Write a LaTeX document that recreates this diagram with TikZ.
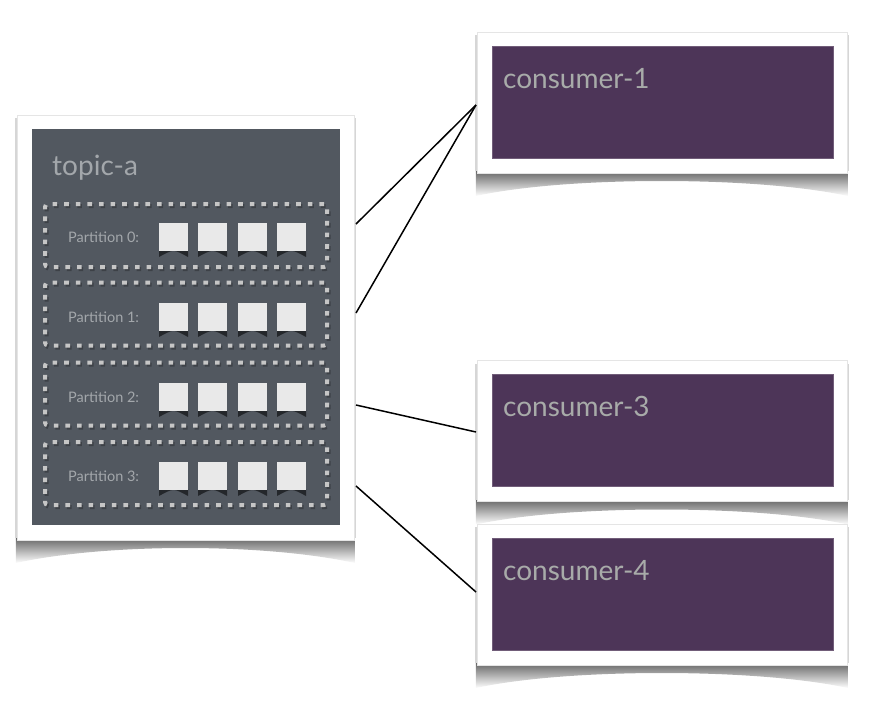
\documentclass[tikz,border=0pt]{standalone}
\usepackage{fontspec}
\setmainfont{Lato}
\usetikzlibrary{fadings}
\definecolor{panelgray}{HTML}{525860}
\definecolor{plum}{HTML}{4D3558}
\definecolor{softtext}{HTML}{A3A7AB}
\definecolor{consumertext}{HTML}{A8ABA9}
\definecolor{dashgray}{HTML}{C6C6C6}
\definecolor{cellfill}{HTML}{E9E9E9}
% #1 left x, #2 right x, #3 bottom y, #4 top y
\newcommand\curlshadow[4]{%
  \fill[black!60, path fading=south] (#1-1,#3-2) -- (#1-1,#3+23) .. controls (#1+90,#3+3) and (#2-90,#3+3) .. (#2+1,#3+23) -- (#2+1,#3-2) -- cycle;
  \fill[black!16] (#1-2,#3-2) rectangle (#1,#4+3);
  \fill[black!16] (#2,#3-2) rectangle (#2+2,#4+3);}
\newcommand\cellshadow[3]{%
  \fill[black, opacity=0.55] (#1,#3-1) -- (#1,#3+6) .. controls ({(#1+#2)/2},#3-2) .. (#2,#3+6) -- (#2,#3-1) -- cycle;}
\tikzset{
  cardframe/.style={draw=black!10, line width=0.6, fill=white, inner sep=0, outer sep=0},
  topicpanel/.style={fill=panelgray, inner sep=0, outer sep=0, minimum width=308, minimum height=396},
  consumerpanel/.style={fill=plum, draw=plum!80!white, line width=0.5, inner sep=0, outer sep=0, minimum width=341, minimum height=112},
  partbox/.style={draw=dashgray, line width=4, dash pattern=on 4.6 off 7, rounded corners=3, inner sep=0, minimum width=282, minimum height=63},
  partshadow/.style={draw=black, opacity=0.25, line width=4, dash pattern=on 4.6 off 7, rounded corners=3, inner sep=0, minimum width=282, minimum height=63},
  cell/.style={fill=cellfill, inner sep=0, minimum width=29, minimum height=28},
  bigtext/.style={font=\fontsize{28}{30}\selectfont, inner sep=0, anchor=base west},
  parttext/.style={text=softtext, font=\fontsize{14.5}{16}\selectfont, inner sep=0, anchor=base west},
  link/.style={draw=black, line width=1.5},
}
\begin{document}
\begin{tikzpicture}[x=1pt, y=-1pt]
\useasboundingbox (0,0) rectangle (877,705);

% ---------- topic card ----------
\curlshadow{17}{354}{540}{115}
\node[cardframe, minimum width=337, minimum height=425] (topic) at (185.5,327.5) {};
\node[topicpanel] (topicp) at (186,327) {};
\node[bigtext, text=softtext] (topiclabel) at (52,175) {topic-a};

\foreach \i/\yb/\yc in {0/235.5/237, 1/314/317, 2/394/397, 3/473.5/476} {
  \node[partshadow] at (187.5,\yb+2) {};
  \node[partbox] (p\i) at (186,\yb) {};
  \node[parttext] (pl\i) at (68,\yc+5.5) {Partition \i:};
  \foreach \j/\xc in {1/173.5, 2/212.5, 3/252.5, 4/291.5} {
    \cellshadow{\xc-14.5}{\xc+14.5}{\yc+14}
    \node[cell] (s\i\j) at (\xc,\yc) {};
  }
}

% ---------- consumer cards ----------
\foreach \n/\fy/\py in {1/102.5/102, 3/431/430, 4/594.5/594} {
  \curlshadow{477}{847}{\fy+70.5}{\fy-70.5}
  \node[cardframe, minimum width=370, minimum height=141] (c\n) at (662,\fy) {};
  \node[consumerpanel] (c\n p) at (662.5,\py) {};
  \node[bigtext, text=consumertext] (c\n l) at (503,\py-14) {consumer-\n};
}

% ---------- connectors ----------
\coordinate (a0) at (356,224);
\coordinate (a1) at (356,313);
\coordinate (a2) at (356,405);
\coordinate (a3) at (356,486);
\coordinate (e1) at (476,105);
\coordinate (e3) at (476,432);
\coordinate (e4) at (476,592);
\draw[link] (a0) -- (e1);
\draw[link] (a1) -- (e1);
\draw[link] (a2) -- (e3);
\draw[link] (a3) -- (e4);
\end{tikzpicture}
\end{document}
